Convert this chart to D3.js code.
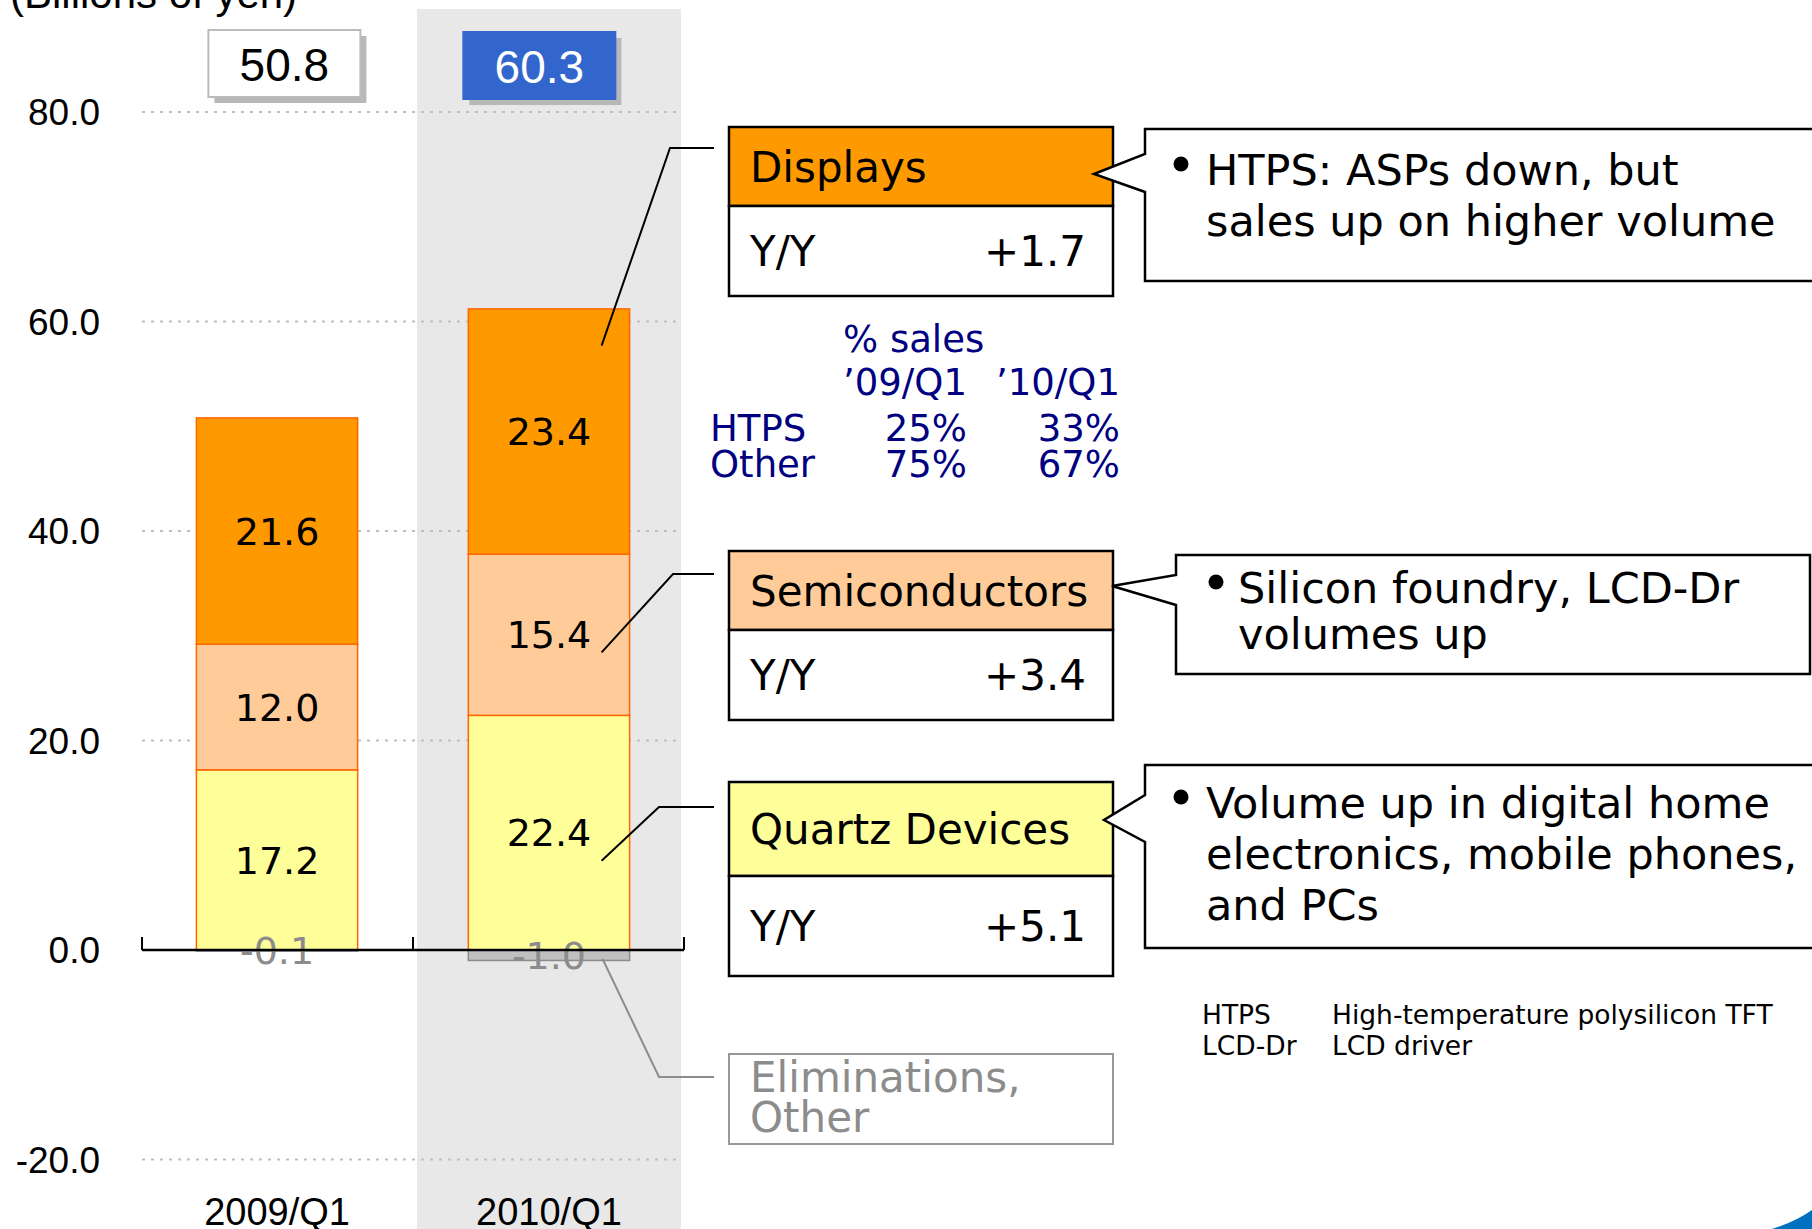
<!DOCTYPE html>
<html>
<head>
<meta charset="utf-8">
<script src="https://cdn.jsdelivr.net/npm/d3@7"></script>
<style>
  html, body { margin: 0; padding: 0; background: #fff; }
  svg { display: block; }
  text { font-family: "DejaVu Sans", Verdana, sans-serif; }
</style>
</head>
<body>
<svg id="chart" width="1812" height="1229"></svg>
<script>
// data
const quarters = ["2009/Q1", "2010/Q1"];
const quartz = [17.2, 22.4];
const semis = [12.0, 15.4];
const displays = [21.6, 23.4];
const elims = [-0.1, -1.0];
const totals = [50.8, 60.3];
const yTicks = [-20, 0, 20, 40, 60, 80];
const segmentNames = ["Quartz Devices", "Semiconductors", "Displays"];
const yoy = { "Displays": "+1.7", "Semiconductors": "+3.4", "Quartz Devices": "+5.1" };
const shareHeaders = ["\u201909/Q1", "\u201910/Q1"];
const shareRows = [["HTPS", "25%", "33%"], ["Other", "75%", "67%"]];
const notes = [
  ["HTPS: ASPs down, but", "sales up on higher volume"],
  ["Silicon foundry, LCD-Dr", "volumes up"],
  ["Volume up in digital home", "electronics, mobile phones,", "and PCs"]
];
const glossary = [["HTPS", "High-temperature polysilicon TFT"], ["LCD-Dr", "LCD driver"]];

const colors = { "Displays": "#FF9900", "Semiconductors": "#FFCC99", "Quartz Devices": "#FFFF99" };

const svg = d3.select("#chart");

const x = d3.scaleBand().domain(quarters).range([142, 684]).paddingInner(0.407).paddingOuter(0.2);
const y = d3.scaleLinear().domain([-20, 80]).range([1159.5, 112]);

// highlight band behind 2010
svg.append("rect")
  .attr("x", x("2010/Q1") - x.step() * x.paddingInner() / 2 + 4)
  .attr("y", 9)
  .attr("width", 264)
  .attr("height", 1229)
  .attr("fill", "#E8E8E8");

// grid
svg.append("g").selectAll("line")
  .data(yTicks.filter(d => d !== 0))
  .join("line")
  .attr("x1", 142).attr("x2", 682)
  .attr("y1", d => y(d)).attr("y2", d => y(d))
  .attr("stroke", "#BFBFBF").attr("stroke-width", 2)
  .attr("stroke-dasharray", "3,6");

// y labels
svg.append("g").selectAll("text")
  .data(yTicks)
  .join("text")
  .attr("x", 100).attr("y", d => y(d))
  .attr("dy", "0.36em")
  .attr("text-anchor", "end")
  .style("font-family", "'Liberation Sans', Arial, sans-serif")
  .style("font-size", "37px")
  .text(d => d.toFixed(1));

svg.append("text")
  .attr("x", 10).attr("y", 8)
  .style("font-family", "'Liberation Sans', Arial, sans-serif")
  .style("font-size", "42px")
  .text("(Billions of yen)");

// stacked bars
const rows = quarters.map((q, i) => ({
  quarter: q, "Quartz Devices": quartz[i], "Semiconductors": semis[i], "Displays": displays[i]
}));
const series = d3.stack().keys(segmentNames)(rows);

const barG = svg.append("g");
series.forEach(s => {
  barG.append("g").selectAll("rect")
    .data(s)
    .join("rect")
    .attr("x", d => x(d.data.quarter))
    .attr("y", d => y(d[1]))
    .attr("width", x.bandwidth())
    .attr("height", d => y(d[0]) - y(d[1]))
    .attr("fill", colors[s.key])
    .attr("stroke", "#FF6600").attr("stroke-width", 1.5);
  barG.append("g").selectAll("text")
    .data(s)
    .join("text")
    .attr("x", d => x(d.data.quarter) + x.bandwidth() / 2)
    .attr("y", d => y((d[0] + d[1]) / 2))
    .attr("dy", "0.36em")
    .attr("text-anchor", "middle")
    .style("font-size", "38px")
    .text(d => d.data[s.key].toFixed(1));
});

// eliminations
barG.append("g").selectAll("rect")
  .data(elims)
  .join("rect")
  .attr("x", (d, i) => x(quarters[i]))
  .attr("y", y(0))
  .attr("width", x.bandwidth())
  .attr("height", d => Math.max(y(d) - y(0), 1))
  .attr("fill", "#C0C0C0").attr("stroke", "#8C8C8C").attr("stroke-width", 1.5);

// axis
const axisY = y(0);
svg.append("line")
  .attr("x1", 142).attr("x2", 684).attr("y1", axisY).attr("y2", axisY)
  .attr("stroke", "#000").attr("stroke-width", 2.5);
const bounds = [142, x("2010/Q1") - x.step() * x.paddingInner() / 2, 684];
svg.append("g").selectAll("line")
  .data(bounds)
  .join("line")
  .attr("x1", d => d).attr("x2", d => d)
  .attr("y1", axisY).attr("y2", axisY - 13)
  .attr("stroke", "#000").attr("stroke-width", 2);

barG.append("g").selectAll("text")
  .data(elims)
  .join("text")
  .attr("x", (d, i) => x(quarters[i]) + x.bandwidth() / 2)
  .attr("y", d => y(d / 2))
  .attr("dy", "0.36em")
  .attr("text-anchor", "middle")
  .attr("fill", "#8C8C8C")
  .style("font-size", "38px")
  .text(d => d.toFixed(1));

// category labels
svg.append("g").selectAll("text")
  .data(quarters)
  .join("text")
  .attr("x", d => x(d) + x.bandwidth() / 2)
  .attr("y", 1225)
  .attr("text-anchor", "middle")
  .style("font-family", "'Liberation Sans', Arial, sans-serif")
  .style("font-size", "38px")
  .text(d => d);

// total boxes
const boxDx = [12, -5], boxY = [30, 32];
const totalG = svg.append("g").selectAll("g")
  .data(totals)
  .join("g")
  .attr("transform", (d, i) => `translate(${x(quarters[i]) + boxDx[i]},${boxY[i]})`);
totalG.append("rect")
  .attr("x", 6).attr("y", 6).attr("width", 152).attr("height", 67)
  .attr("fill", "#B8B8B8");
totalG.append("rect")
  .attr("width", 152).attr("height", 67)
  .attr("fill", (d, i) => i === 1 ? "#3366CC" : "#fff")
  .attr("stroke", (d, i) => i === 1 ? "#3366CC" : "#BBBBBB").attr("stroke-width", 2);
totalG.append("text")
  .attr("x", 76).attr("y", 34).attr("dy", "0.36em")
  .attr("text-anchor", "middle")
  .attr("fill", (d, i) => i === 1 ? "#fff" : "#000")
  .style("font-family", "'Liberation Sans', Arial, sans-serif")
  .style("font-size", "46px")
  .text(d => d.toFixed(1));

// segment boxes on the right
const boxX = 729, boxW = 384;
const segBoxes = [
  { name: "Displays", top: 127, head: 79, body: 90, anchor: 0.85, elbow: [670, 148] },
  { name: "Semiconductors", top: 551, head: 79, body: 90, anchor: 0.39, elbow: [673, 574] },
  { name: "Quartz Devices", top: 782, head: 94, body: 100, anchor: 0.38, elbow: [659, 807] }
];
segBoxes.forEach(b => {
  const g = svg.append("g");
  g.append("rect").attr("x", boxX).attr("y", b.top).attr("width", boxW).attr("height", b.head)
    .attr("fill", colors[b.name]).attr("stroke", "#000").attr("stroke-width", 2.5);
  g.append("rect").attr("x", boxX).attr("y", b.top + b.head).attr("width", boxW).attr("height", b.body)
    .attr("fill", "#fff").attr("stroke", "#000").attr("stroke-width", 2.5);
  g.append("text").attr("x", boxX + 21).attr("y", b.top + b.head / 2).attr("dy", "0.36em")
    .style("font-size", "42px").text(b.name);
  g.append("text").attr("x", boxX + 21).attr("y", b.top + b.head + b.body / 2).attr("dy", "0.36em")
    .style("font-size", "42px").text("Y/Y");
  g.append("text").attr("x", boxX + 357).attr("y", b.top + b.head + b.body / 2).attr("dy", "0.36em")
    .attr("text-anchor", "end").style("font-size", "42px").text(yoy[b.name]);

  const seg = series.find(s => s.key === b.name)[1];
  const ax = x("2010/Q1") + x.bandwidth() - 28;
  const ay = y(seg[0] + b.anchor * (seg[1] - seg[0]));
  g.append("polyline")
    .attr("points", [[ax, ay], b.elbow, [714, b.elbow[1]]].map(p => p.join(",")).join(" "))
    .attr("fill", "none").attr("stroke", "#000").attr("stroke-width", 2);
});

// eliminations box
const eg = svg.append("g");
eg.append("rect").attr("x", boxX).attr("y", 1054).attr("width", boxW).attr("height", 90)
  .attr("fill", "#fff").attr("stroke", "#999").attr("stroke-width", 2);
eg.append("text").attr("x", boxX + 21).attr("y", 1092).attr("fill", "#8C8C8C")
  .style("font-size", "42px").text("Eliminations,");
eg.append("text").attr("x", boxX + 21).attr("y", 1132).attr("fill", "#8C8C8C")
  .style("font-size", "42px").text("Other");
eg.append("polyline")
  .attr("points", [[x("2010/Q1") + x.bandwidth() - 27, y(0.86 * elims[1])], [659, 1077], [714, 1077]]
    .map(p => p.join(",")).join(" "))
  .attr("fill", "none").attr("stroke", "#8C8C8C").attr("stroke-width", 2);

// callouts
const callouts = [
  { left: 1145, top: 129, bottom: 281, right: 1830, tip: [1094, 174], base: [154, 192], tx: 1206, bx: 1173, lines: notes[0], y0: 185, lh: 51 },
  { left: 1176, top: 555, bottom: 674, right: 1810, tip: [1112, 586], base: [575, 605], tx: 1238, bx: 1208, lines: notes[1], y0: 603, lh: 46 },
  { left: 1145, top: 765, bottom: 948, right: 1830, tip: [1104, 820], base: [795, 842], tx: 1206, bx: 1173, lines: notes[2], y0: 818, lh: 51 }
];
callouts.forEach(c => {
  const p = d3.path();
  p.moveTo(c.left, c.top);
  p.lineTo(c.right, c.top);
  p.lineTo(c.right, c.bottom);
  p.lineTo(c.left, c.bottom);
  p.lineTo(c.left, c.base[1]);
  p.lineTo(c.tip[0], c.tip[1]);
  p.lineTo(c.left, c.base[0]);
  p.closePath();
  svg.append("path").attr("d", p.toString())
    .attr("fill", "#fff").attr("stroke", "#000").attr("stroke-width", 2.5);
  svg.append("circle").attr("cx", c.bx + 8).attr("cy", c.y0 - 21).attr("r", 7.5).attr("fill", "#000");
  svg.append("g").selectAll("text")
    .data(c.lines)
    .join("text")
    .attr("x", c.tx).attr("y", (d, i) => c.y0 + i * c.lh)
    .style("font-size", "43px")
    .text(d => d);
});

// share table
const navy = "#000080";
const tg = svg.append("g").attr("fill", navy).style("font-size", "37px");
tg.append("text").attr("x", 843).attr("y", 352).text("% sales");
tg.selectAll(".hdr").data(shareHeaders).join("text")
  .attr("x", (d, i) => [843, 996][i]).attr("y", 395).text(d => d);
shareRows.forEach((r, j) => {
  const yy = 441 + j * 36;
  tg.append("text").attr("x", 710).attr("y", yy).text(r[0]);
  tg.append("text").attr("x", 967).attr("y", yy).attr("text-anchor", "end").text(r[1]);
  tg.append("text").attr("x", 1120).attr("y", yy).attr("text-anchor", "end").text(r[2]);
});

// glossary
const gg = svg.append("g").style("font-size", "26.5px");
glossary.forEach((r, j) => {
  gg.append("text").attr("x", 1202).attr("y", 1024 + j * 31).text(r[0]);
  gg.append("text").attr("x", 1332).attr("y", 1024 + j * 31).text(r[1]);
});

// corner swoosh
svg.append("path")
  .attr("d", "M1772,1229 Q1795,1222 1812,1210 L1812,1229 Z")
  .attr("fill", "#0070C0");
</script>
</body>
</html>
